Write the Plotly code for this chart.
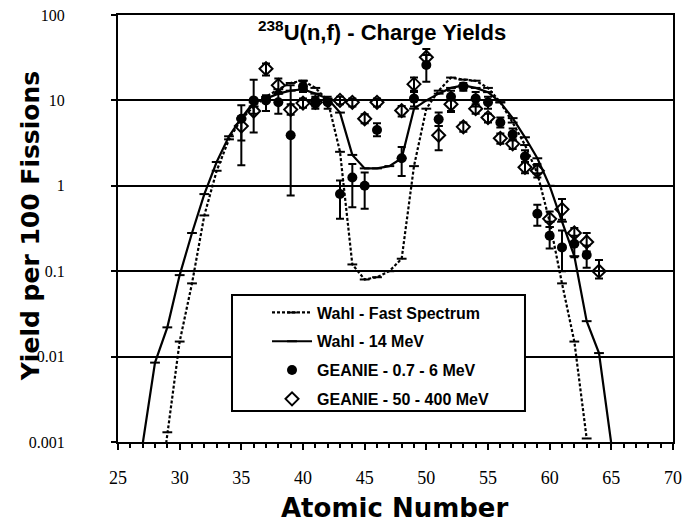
import plotly.graph_objects as go

# Wahl - Fast Spectrum (dotted curve)
z_wahl_fast = list(range(28, 64))
y_wahl_fast = [0.0001, 0.0013, 0.015, 0.072, 0.45, 1.5, 3.5, 6, 8.5, 11, 13.5, 16, 17, 14, 10,
               2.5, 0.12, 0.08, 0.085, 0.1, 0.14, 1.7, 8, 13, 18.5, 17.5, 17, 14, 9.5, 5.5,
               3, 1.4, 0.38, 0.072, 0.015, 0.0011]

# Wahl - 14 MeV (solid curve)
z_wahl_14 = list(range(27, 66))
y_wahl_14 = [0.00095, 0.0085, 0.022, 0.09, 0.28, 0.8, 1.9, 3.8, 6.2, 9.5, 10.5, 12, 13, 13.5,
             12, 10.5, 7.2, 2.3, 1.6, 1.6, 1.7, 2.1, 8, 10, 12, 14, 15, 14, 12.5, 9.5, 6.2,
             3.7, 2.1, 1.0, 0.38, 0.15, 0.026, 0.011, 0.00095]

# GEANIE - 0.7 - 6 MeV (filled circles)
z_low = [35, 36, 37, 38, 39, 40, 41, 42, 43, 44, 45, 46, 48, 49, 50, 51, 52, 53, 54, 55,
         56, 57, 58, 59, 60, 61, 62, 63]
y_low = [6.1, 10, 10, 9.5, 3.9, 14.5, 9.5, 9.5, 0.8, 1.25, 1.0, 4.5, 2.1, 10.5, 26, 6, 11,
         14.5, 10.5, 9.5, 5.5, 4, 2.2, 0.47, 0.26, 0.19, 0.21, 0.155]
y_low_hi = [8.8, 17.5, 11.5, 12, 15, 17, 11, 11, 1.15, 1.8, 1.43, 5.4, 2.85, 12.5, 34, 7.2,
            13, 16, 12.5, 11, 6.3, 4.7, 2.6, 0.6, 0.33, 0.3, 0.26, 0.2]
y_low_lo = [3.4, 7.0, 7.5, 7.0, 0.77, 12.5, 8, 8, 0.41, 0.56, 0.54, 3.8, 1.3, 8.5, 16.5, 5,
            7.3, 13, 8.5, 8, 4.8, 3.4, 1.9, 0.34, 0.185, 0.1, 0.146, 0.11]

# GEANIE - 50 - 400 MeV (open diamonds)
z_high = [35, 36, 37, 38, 39, 40, 41, 43, 44, 45, 46, 48, 49, 50, 51, 52, 53, 54, 55, 56,
          57, 58, 59, 60, 61, 62, 63, 64]
y_high = [5.0, 7.5, 23.5, 15, 7.8, 9.3, 9.5, 10, 9.5, 6.1, 9.5, 7.6, 15.5, 32, 3.9, 9, 4.9,
          8, 6.3, 3.6, 3.1, 1.65, 1.5, 0.41, 0.53, 0.28, 0.22, 0.1]
y_high_hi = [6.5, 9.5, 27, 18, 9, 10.5, 10.5, 11, 10.5, 6.9, 10.5, 8.6, 18.5, 40, 5, 10.5,
             5.5, 9, 7, 4.1, 3.5, 1.9, 1.8, 0.5, 0.7, 0.32, 0.28, 0.135]
y_high_lo = [1.74, 4.2, 19.6, 12.5, 6.8, 8.2, 8.5, 9, 8.5, 5.4, 8.5, 6.5, 13, 25, 2.6, 7.5,
             4.3, 7, 5.5, 3.1, 2.7, 1.4, 1.25, 0.33, 0.4, 0.22, 0.17, 0.082]

y_tickvals = [0.001, 0.01, 0.1, 1, 10, 100]
y_ticktext = ["0.001", "0.01", "0.1", "1", "10", "100"]
x_tickvals = [25, 30, 35, 40, 45, 50, 55, 60, 65, 70]

fig = go.Figure()

fig.add_trace(go.Scatter(
    x=z_wahl_fast, y=y_wahl_fast, mode="lines+markers", name="Wahl - Fast Spectrum",
    legendgroup="a",
    line=dict(color="black", width=2.2, dash="3px,2px"),
    marker=dict(symbol="line-ew", size=7, color="black", line=dict(color="black", width=2)),
))
fig.add_trace(go.Scatter(
    x=z_wahl_14, y=y_wahl_14, mode="lines+markers", name="Wahl - 14 MeV",
    legendgroup="b",
    line=dict(color="black", width=2.2),
    marker=dict(symbol="line-ew", size=7, color="black", line=dict(color="black", width=2)),
))
fig.add_trace(go.Scatter(
    x=z_low, y=y_low, mode="markers", name="GEANIE - 0.7 - 6 MeV",
    legendgroup="c",
    marker=dict(symbol="circle", size=10, color="black"),
    error_y=dict(type="data", symmetric=False,
                 array=[h - v for h, v in zip(y_low_hi, y_low)],
                 arrayminus=[v - l for v, l in zip(y_low, y_low_lo)],
                 color="black", thickness=2, width=4),
))
fig.add_trace(go.Scatter(
    x=z_high, y=y_high, mode="markers", name="GEANIE - 50 - 400 MeV",
    legendgroup="d",
    marker=dict(symbol="diamond-open", size=10, color="black", line=dict(width=2)),
    error_y=dict(type="data", symmetric=False,
                 array=[h - v for h, v in zip(y_high_hi, y_high)],
                 arrayminus=[v - l for v, l in zip(y_high, y_high_lo)],
                 color="black", thickness=2, width=4),
))

fig.update_layout(
    width=684, height=524,
    margin=dict(l=118, r=11, t=15, b=82),
    paper_bgcolor="white", plot_bgcolor="white",
    showlegend=True,
    legend=dict(
        x=0.2685, y=0.343, xanchor="left", yanchor="top",
        bgcolor="rgba(0,0,0,0)", borderwidth=0,
        font=dict(family="Liberation Sans", size=16, color="black", weight="bold"),
        tracegroupgap=5, itemwidth=40,
    ),
    xaxis=dict(
        range=[25, 70], tickvals=x_tickvals, ticks="outside", ticklen=6, tickwidth=1.5,
        tickcolor="black", showline=True, linewidth=2, linecolor="black", mirror=True,
        showgrid=False, zeroline=False, automargin=False,
        minor=dict(dtick=1, tick0=25, ticks="outside", ticklen=4, tickwidth=1.5,
                   tickcolor="black", showgrid=False),
        tickfont=dict(family="Liberation Serif", size=18, color="black"),
        ticklabelstandoff=12,
    ),
    yaxis=dict(
        type="log", range=[-3, 2], tickvals=y_tickvals, ticktext=y_ticktext,
        ticks="outside", ticklen=5, tickwidth=1.5, tickcolor="black",
        showline=True, linewidth=2, linecolor="black", mirror=True,
        showgrid=True, gridcolor="black", gridwidth=1.5, zeroline=False, automargin=False,
        tickfont=dict(family="Liberation Serif", size=16, color="black"),
        ticklabelstandoff=43,
    ),
    shapes=[
        dict(type="rect", xref="paper", yref="paper", x0=0.2054, x1=0.7333,
             y0=0.0726, y1=0.3443, fillcolor="white", line=dict(color="black", width=2),
             layer="above"),
    ],
    annotations=[
        dict(text="<sup>238</sup>U(n,f) - Charge Yields", xref="paper", yref="paper",
             x=0.475, y=0.962, xanchor="center", yanchor="middle", showarrow=False,
             font=dict(family="Liberation Sans", size=22, color="black", weight="bold")),
        dict(text="Atomic Number", xref="paper", yref="paper",
             x=0.499, y=-0.155, xanchor="center", yanchor="middle", showarrow=False,
             font=dict(family="DejaVu Sans", size=26, color="black", weight="bold")),
        dict(text="Yield per 100 Fissions", xref="paper", yref="paper",
             x=-0.157, y=0.505, xanchor="center", yanchor="middle", showarrow=False,
             textangle=-90,
             font=dict(family="DejaVu Sans", size=25, color="black", weight="bold")),
    ],
)

fig.write_html(
    "out.html",
    config={"displayModeBar": False},
    post_script="document.body.style.margin='0';document.body.style.overflow='hidden';",
)
